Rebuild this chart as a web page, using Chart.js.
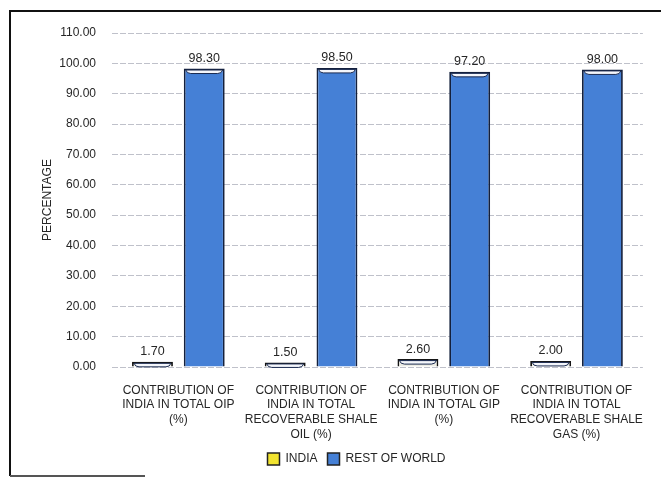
<!DOCTYPE html>
<html>
<head>
<meta charset="utf-8">
<script src="https://cdn.jsdelivr.net/npm/chart.js@4.4.1/dist/chart.umd.min.js"></script>
<style>
	html, body { margin: 0; padding: 0; background: #fff; }
	#wrap { position: relative; width: 661px; height: 477px; }
</style>
</head>
<body>
<div id="wrap"><canvas id="myChart" width="661" height="477"></canvas></div>
<script>
const categories = [
	['CONTRIBUTION OF', 'INDIA IN TOTAL OIP', '(%)'],
	['CONTRIBUTION OF', 'INDIA IN TOTAL', 'RECOVERABLE SHALE', 'OIL (%)'],
	['CONTRIBUTION OF', 'INDIA IN TOTAL GIP', '(%)'],
	['CONTRIBUTION OF', 'INDIA IN TOTAL', 'RECOVERABLE SHALE', 'GAS (%)']
];
const indiaValues = [1.70, 1.50, 2.60, 2.00];
const restValues = [98.30, 98.50, 97.20, 98.00];
const yMin = 0;
const yMax = 110;
const yStep = 10;

const fontFamily = '"Liberation Sans", Arial, sans-serif';
const textColor = '#262626';

// frame lines of the scanned page
const framePlugin = {
	id: 'frame',
	beforeDraw (chart) {
		const ctx = chart.ctx;
		ctx.save();
		ctx.strokeStyle = '#111';
		ctx.lineWidth = 2;
		ctx.beginPath();
		ctx.moveTo(10, 476);
		ctx.lineTo(10, 11);
		ctx.lineTo(661, 11);
		ctx.stroke();
		ctx.strokeStyle = '#555';
		ctx.beginPath();
		ctx.moveTo(10, 476);
		ctx.lineTo(145, 476);
		ctx.stroke();
		ctx.restore();
	},
	afterLayout (chart) {
		// legend sits a bit right of the page centre in the scan
		chart.legend.left += 16;
		chart.legend.right += 16;
	}
};

// value labels + light cap on top of each bar
const labelPlugin = {
	id: 'valueLabels',
	afterDatasetsDraw (chart) {
		const ctx = chart.ctx;
		ctx.save();
		chart.data.datasets.forEach((ds, i) => {
			const meta = chart.getDatasetMeta(i);
			meta.data.forEach((bar, j) => {
				const half = bar.width / 2;
				// white cap
				ctx.fillStyle = '#f4f6fb';
				ctx.strokeStyle = '#1a2a50';
				ctx.lineWidth = 1;
				ctx.beginPath();
				ctx.moveTo(bar.x - half + 2, bar.y + 1.5);
				ctx.lineTo(bar.x + half - 2, bar.y + 1.5);
				ctx.quadraticCurveTo(bar.x + half - 3, bar.y + 5, bar.x + half - 7, bar.y + 5);
				ctx.lineTo(bar.x - half + 7, bar.y + 5);
				ctx.quadraticCurveTo(bar.x - half + 3, bar.y + 5, bar.x - half + 2, bar.y + 1.5);
				ctx.fill();
				ctx.stroke();
				// label
				ctx.fillStyle = textColor;
				ctx.font = '12.5px ' + fontFamily;
				ctx.textAlign = 'center';
				ctx.textBaseline = 'middle';
				ctx.fillText(ds.data[j].toFixed(2), bar.x, bar.y - 10);
			});
		});
		ctx.restore();
	}
};

const config = {
	type: 'bar',
	data: {
		labels: categories,
		datasets: [
			{
				label: 'INDIA',
				data: indiaValues,
				backgroundColor: '#ecece4',
				legendColor: '#f2e430',
				borderColor: '#151515',
				borderWidth: 1.8,
				categoryPercentage: 0.78,
				barPercentage: 0.79
			},
			{
				label: 'REST OF WORLD',
				data: restValues,
				backgroundColor: '#4580d6',
				legendColor: '#4580d6',
				borderColor: '#14203c',
				borderWidth: 1.8,
				categoryPercentage: 0.78,
				barPercentage: 0.79
			}
		]
	},
	options: {
		responsive: false,
		animation: false,
		layout: {
			padding: { left: 37, right: 17, top: 33, bottom: 2 }
		},
		plugins: {
			tooltip: { enabled: false },
			legend: {
				position: 'bottom',
				labels: {
					color: textColor,
					font: { family: fontFamily, size: 12 },
					boxWidth: 12,
					boxHeight: 12,
					padding: 10,
					generateLabels (chart) {
						return chart.data.datasets.map((ds, i) => ({
							text: ds.label,
							fillStyle: ds.legendColor,
							strokeStyle: '#222',
							lineWidth: 1.5,
							datasetIndex: i,
							fontColor: textColor
						}));
					}
				}
			}
		},
		scales: {
			x: {
				grid: { display: false, drawTicks: false },
				border: { display: false },
				ticks: {
					color: textColor,
					font: { family: fontFamily, size: 12, lineHeight: 1.22 },
					padding: 16,
					maxRotation: 0,
					autoSkip: false
				},
				afterFit (scale) { scale.height = 76; }
			},
			y: {
				min: yMin,
				max: yMax,
				ticks: {
					stepSize: yStep,
					color: textColor,
					font: { family: fontFamily, size: 12 },
					padding: 16,
					callback: (v) => v.toFixed(2)
				},
				grid: {
					drawTicks: false,
					color: '#bfc1ca',
					lineWidth: 1
				},
				border: { display: false, dash: [6, 2] },
				title: {
					display: true,
					text: 'PERCENTAGE',
					color: textColor,
					font: { family: fontFamily, size: 12 },
					padding: { top: 3, bottom: 0 }
				},
				afterFit (scale) { scale.width = 75; }
			}
		}
	},
	plugins: [framePlugin, labelPlugin]
};

const ctx = document.getElementById('myChart');
const chart = new Chart(ctx, config);
</script>
</body>
</html>
